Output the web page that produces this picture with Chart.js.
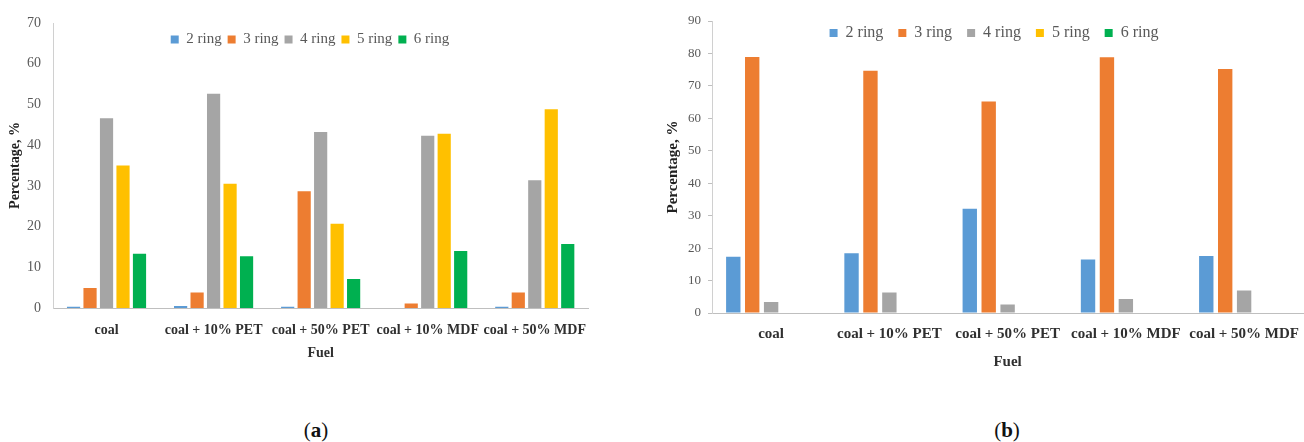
<!DOCTYPE html>
<html>
<head>
<meta charset="utf-8">
<script src="https://cdn.jsdelivr.net/npm/chart.js@4.4.1/dist/chart.umd.min.js"></script>
<style>
  html, body { margin: 0; padding: 0; background: #fff; }
  body { width: 1304px; height: 442px; position: relative; overflow: hidden; }
  .box { position: absolute; top: 0; }
  .cap { position: absolute; top: 417px; font-family: 'Liberation Serif', serif; font-size: 21px; line-height: 26px; color: #111; transform: translateX(-50%); white-space: nowrap; }
</style>
</head>
<body>
<div class="box" style="left:0;width:600px;height:370px"><canvas id="ca"></canvas></div>
<div class="box" style="left:654px;width:657px;height:380px"><canvas id="cb"></canvas></div>
<div class="cap" style="left:316px">(<b>a</b>)</div>
<div class="cap" style="left:1007px">(<b>b</b>)</div>
<script>
// ---- data ----
const categories = ['coal', 'coal + 10% PET', 'coal + 50% PET', 'coal + 10% MDF', 'coal + 50% MDF'];
const seriesNames = ['2 ring', '3 ring', '4 ring', '5 ring', '6 ring'];
const seriesColors = ['#5B9BD5', '#ED7D31', '#A5A5A5', '#FFC000', '#00B050'];

// chart (a)
const a2ring = [0.3, 0.5, 0.3, 0, 0.3];
const a3ring = [4.9, 3.8, 28.7, 1.1, 3.8];
const a4ring = [46.6, 52.6, 43.2, 42.3, 31.4];
const a5ring = [35.0, 30.5, 20.7, 42.8, 48.8];
const a6ring = [13.3, 12.7, 7.1, 14.0, 15.7];
const aMax = 70;

// chart (b)
const b2ring = [17.3, 18.4, 32.1, 16.5, 17.6];
const b3ring = [78.9, 74.7, 65.2, 78.8, 75.2];
const b4ring = [3.4, 6.3, 2.6, 4.3, 6.9];
const b5ring = [0, 0, 0, 0, 0];
const b6ring = [0, 0, 0, 0, 0];
const bMax = 90;

const tickStep = 10;
const yTitle = 'Percentage, %';
const xTitle = 'Fuel';

Chart.defaults.font.family = "'Liberation Serif', 'Times New Roman', serif";
Chart.defaults.animation = false;

// move the legend so it floats inside the plot, as in the original
const legendPos = {
  id: 'legendPos',
  afterLayout(chart, args, opts) {
    const l = chart.legend;
    if (!l) return;
    l.left = opts.cx - 400; l.right = opts.cx + 400; l.width = 800;
    l.top = opts.ty; l.bottom = opts.ty + 40; l.height = 40;
    l.adjustHitBoxes && l.adjustHitBoxes();
  }
};

function makeDatasets(arrs, catPct, barPct) {
  return arrs.map((d, i) => ({
    label: seriesNames[i],
    data: d,
    backgroundColor: seriesColors[i],
    borderWidth: 0,
    categoryPercentage: catPct,
    barPercentage: barPct
  }));
}

function makeChart(id, arrs, cfg) {
  return new Chart(document.getElementById(id), {
    type: 'bar',
    data: { labels: categories, datasets: makeDatasets(arrs, cfg.catPct, cfg.barPct) },
    plugins: [legendPos],
    options: {
      responsive: true,
      maintainAspectRatio: false,
      devicePixelRatio: 1,
      layout: { padding: { top: cfg.padTop, left: 0, right: 0, bottom: 0 } },
      plugins: {
        legendPos: { cx: cfg.legendCx, ty: cfg.legendTop },
        tooltip: { enabled: false },
        legend: {
          position: 'top',
          maxHeight: 1,
          labels: {
            boxWidth: 8, boxHeight: 8,
            padding: cfg.legendPad,
            color: '#595959',
            font: { size: cfg.legendSize }
          }
        }
      },
      scales: {
        x: {
          grid: { display: false, drawTicks: false },
          border: { display: true, color: '#BFBFBF', width: 1 },
          ticks: { color: '#303030', padding: cfg.xTickPad, font: { size: cfg.labelSize, weight: 'bold' }, maxRotation: 0, autoSkip: false },
          title: { display: true, text: xTitle, color: '#303030', font: { size: cfg.labelSize, weight: 'bold' }, padding: { top: 0, bottom: cfg.xTitlePad } },
          afterFit(s) { s.height = cfg.xHeight; }
        },
        y: {
          min: 0, max: cfg.max,
          grid: cfg.yTicks ? { display: true, drawOnChartArea: false, drawTicks: true, tickLength: 4, color: '#BFBFBF' } : { display: false, drawTicks: false },
          border: { display: true, color: '#D0D0D0', width: 1 },
          ticks: { stepSize: tickStep, color: '#595959', padding: cfg.yTickPad, font: { size: cfg.tickSize } },
          title: { display: true, text: yTitle, color: '#222', font: { size: cfg.labelSize, weight: 'bold' }, padding: { top: cfg.yTitlePad, bottom: 0 } },
          afterFit(s) { s.width = cfg.yWidth; }
        }
      }
    }
  });
}

makeChart('ca', [a2ring, a3ring, a4ring, a5ring, a6ring], {
  catPct: 0.77, barPct: 0.80, max: aMax,
  padTop: 22, legendCx: 310, legendTop: 26, legendPad: 6, legendSize: 15,
  labelSize: 14, tickSize: 14, xTickPad: 14, xTitlePad: 8, xHeight: 62,
  yTicks: false, yTickPad: 12, yTitlePad: 7, yWidth: 53
});

makeChart('cb', [b2ring, b3ring, b4ring, b5ring, b6ring], {
  catPct: 0.80, barPct: 0.76, max: bMax,
  padTop: 20, legendCx: 340, legendTop: 10, legendPad: 15, legendSize: 16,
  labelSize: 15, tickSize: 13, xTickPad: 12, xTitlePad: 9, xHeight: 67,
  yTicks: true, yTickPad: 7, yTitlePad: 10, yWidth: 58
});
</script>
</body>
</html>
